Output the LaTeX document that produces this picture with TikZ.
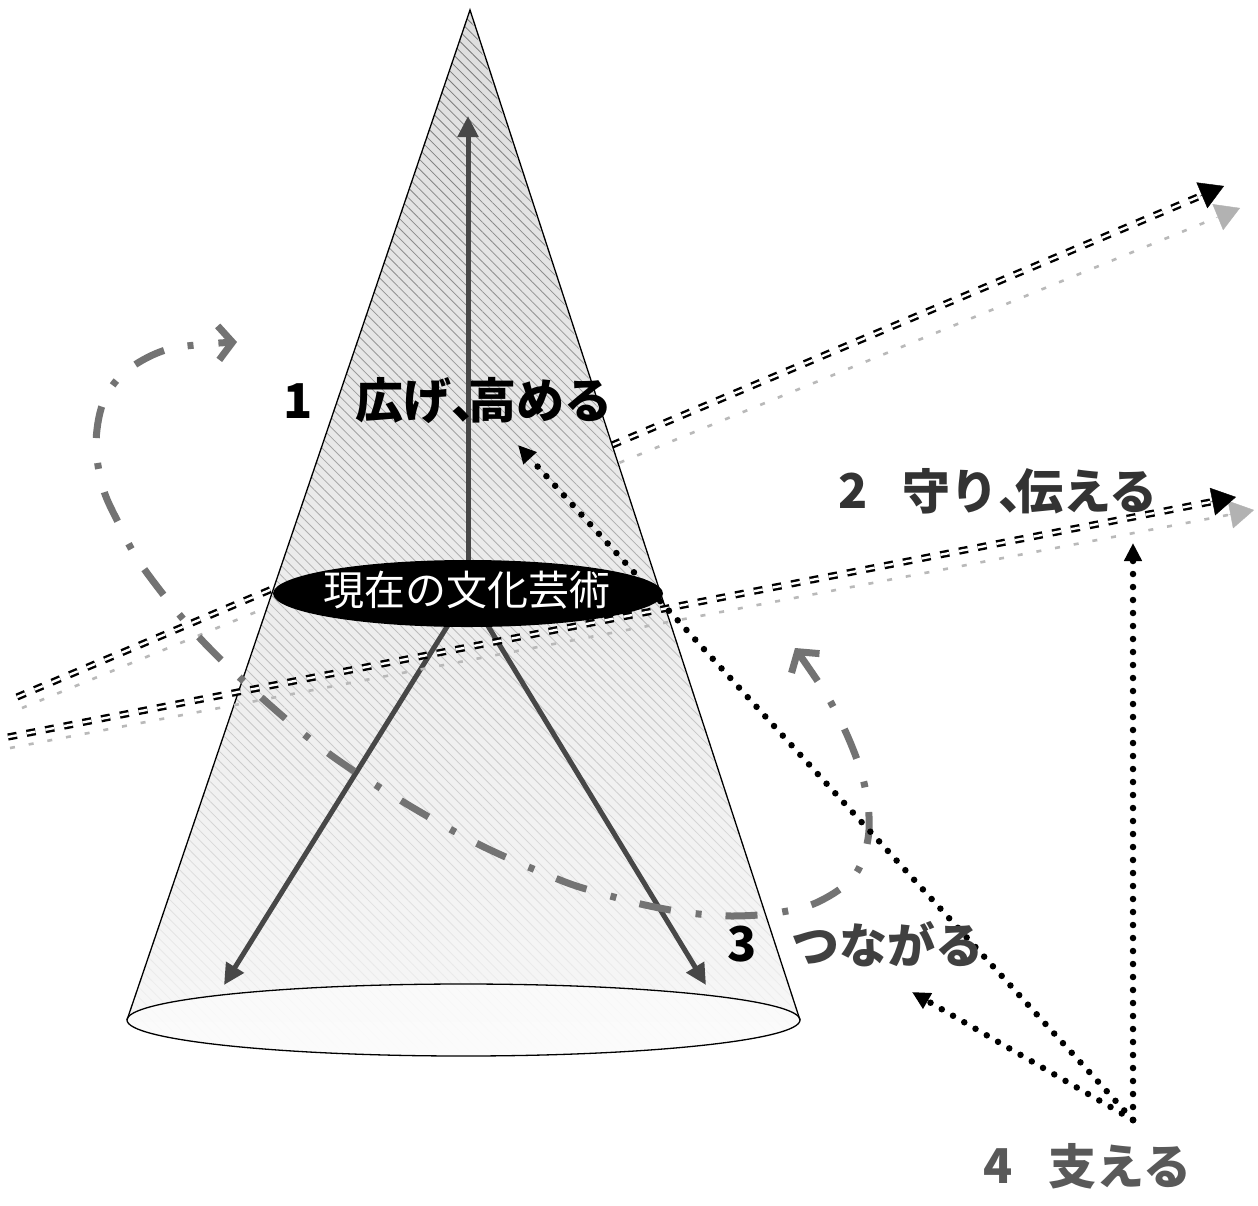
\documentclass[tikz,border=0pt]{standalone}
\usepackage{fontspec}
\newfontfamily\jp{Noto Sans CJK JP}
\usetikzlibrary{arrows.meta,calc,patterns.meta,fadings,shapes.geometric}
\tikzfading[name=hatchfade, top color=transparent!0, middle color=transparent!20, bottom color=transparent!100]
\begin{document}
\begin{tikzpicture}[x=1pt,y=-1pt,
 conearrow/.style={draw=black!72, line width=5pt, -{Triangle[length=21pt,width=20pt]}},
 bandblk/.style={draw=black, double=white, line width=2.4pt, double distance=2.4pt, dash pattern=on 9pt off 10pt},
 bandgry/.style={draw=gray!55, line width=2.6pt, dash pattern=on 5pt off 14pt},
 headblk/.style={draw=black, line width=0.4pt, -{Triangle[length=24pt,width=28pt]}},
 headgry/.style={draw=gray!60, line width=0.4pt, -{Triangle[length=24pt,width=28pt]}},
 dashdot/.style={draw=black!55, line width=7pt, dash pattern=on 32pt off 24pt on 6pt off 25pt, {Straight Barb[length=14pt,width=34pt]}-{Straight Barb[length=14pt,width=34pt]}},
 dotline/.style={draw=black, line width=6.5pt, line cap=round, dash pattern=on 0pt off 13pt, -{Triangle[length=18pt,width=17pt]}},
 lab/.style={inner sep=0pt, font=\jp\bfseries\fontsize{48}{48}\selectfont},
]
\useasboundingbox (0,0) rectangle (1258,1205);
\fill[white] (0,0) rectangle (1258,1205);

% coordinates
\coordinate (apex) at (470,10);
\coordinate (bl) at (127,1020);
\coordinate (br) at (800,1020);
\coordinate (bc) at (463.5,1020);
\coordinate (ctr) at (468,593);
\coordinate (topTip) at (468,116);
\coordinate (leftTip) at (224,985);
\coordinate (rightTip) at (706,985);

% upper band (passes behind the cone)
\coordinate (ua) at (17,697);
\coordinate (ub) at (1224,186);
\coordinate (uga) at (22,708);
\coordinate (ugb) at (1240,208);
\coordinate (ubh) at ($(ub)!26pt!(ua)$);
\coordinate (ugbh) at ($(ugb)!26pt!(uga)$);
\draw[bandgry] (uga) -- (ugbh);
\draw[headgry] (ugbh) -- (ugb);
\draw[bandblk] (ua) -- (ubh);
\draw[headblk] (ubh) -- (ub);

% cone
\fill[white] (apex) -- (br) arc[start angle=0,end angle=-180,x radius=336.5pt,y radius=36pt] -- cycle;
\shade[top color=gray!26, bottom color=gray!6] (apex) -- (br) arc[start angle=0,end angle=-180,x radius=336.5pt,y radius=36pt] -- cycle;
\fill[pattern={Lines[angle=-45,distance=7pt,line width=0.8pt]}, pattern color=black!55, path fading=hatchfade] (apex) -- (br) arc[start angle=0,end angle=-180,x radius=336.5pt,y radius=36pt] -- cycle;
\fill[white, opacity=0.5] (bc) ellipse [x radius=336.5pt, y radius=36pt];
\draw[line width=1.3pt] (bc) ellipse [x radius=336.5pt, y radius=36pt];
\draw[line width=1.3pt] (bl) -- (apex) -- (br);

% arrows from the centre
\draw[conearrow] (ctr) -- (topTip);
\draw[conearrow] (ctr) -- (leftTip);
\draw[conearrow] (ctr) -- (rightTip);

% centre ellipse
\node[ellipse, fill=black, minimum width=390pt, minimum height=67pt, inner sep=0pt] (cur) at (468,593.5) {};
\node[text=white, inner sep=0pt, font=\jp\fontsize{41}{41}\selectfont] (curT) at (467,590) {現在の文化芸術};

% lower band (in front)
\coordinate (la) at (8,737);
\coordinate (lb) at (1236,497);
\coordinate (lga) at (10,748);
\coordinate (lgb) at (1254,510);
\coordinate (lbh) at ($(lb)!26pt!(la)$);
\coordinate (lgbh) at ($(lgb)!26pt!(lga)$);
\draw[bandgry] (lga) -- (lgbh);
\draw[headgry] (lgbh) -- (lgb);
\draw[bandblk] (la) -- (lbh);
\draw[headblk] (lbh) -- (lb);

% dash-dot loop
\draw[dashdot] plot[smooth, tension=0.55] coordinates {(795,648) (836,712) (862,775) (869,830) (855,875) (818,902) (776,913) (732,916) (690,913) (645,905) (600,893) (560,880) (480,845) (400,800) (328,753) (262,698) (197,635) (142,566) (118,522) (103,488) (96,445) (103,403) (125,372) (169,349) (237,342)};

% dotted arrows
\coordinate (sup) at (1133,1120);
\coordinate (supTop) at (1133,543);
\coordinate (supLeft) at (912,992);
\coordinate (supDiag) at (518,445);
\draw[dotline] (sup) -- (supTop);
\draw[dotline] (sup) -- (supLeft);
\draw[dotline] (sup) -- (supDiag);

% labels
\node[lab] (n1) at (298,401) {1};
\node[lab] (t1) at (484,401) {広げ\makebox[0.35em][l]{、}高める};
\node[lab, text=black!80] (n2) at (853,491) {2};
\node[lab, text=black!80] (t2) at (1030,491) {守り\makebox[0.35em][l]{、}伝える};
\node[lab] (n3) at (742,944) {3};
\node[lab, text=black!75] (t3) at (887,944) {つながる};
\node[lab, text=black!65] (n4) at (998,1166) {4};
\node[lab, text=black!65] (t4) at (1120,1166) {支える};
\end{tikzpicture}
\end{document}
